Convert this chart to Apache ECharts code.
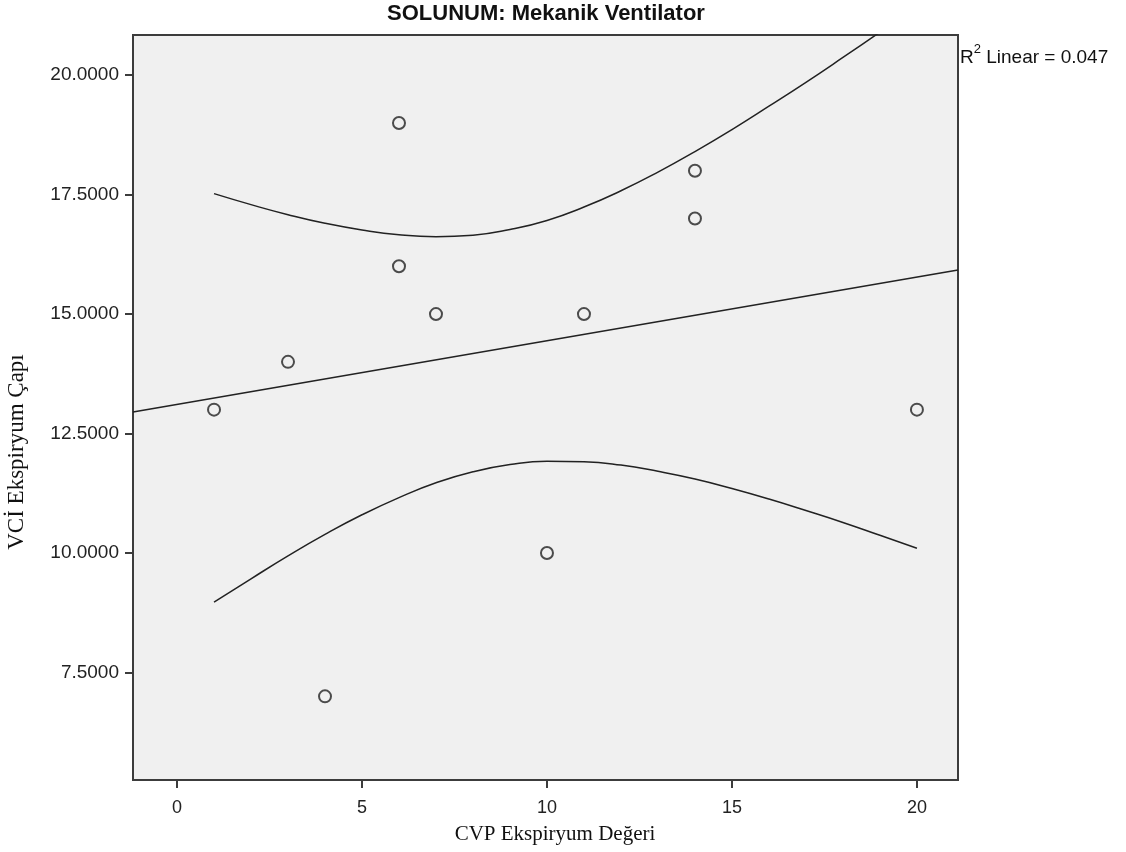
<!DOCTYPE html>
<html>
<head>
<meta charset="utf-8">
<script src="https://cdn.jsdelivr.net/npm/echarts@6/dist/echarts.min.js"></script>
<style>
html,body{margin:0;padding:0;background:#fff;}
#c{width:1126px;height:852px;}
</style>
</head>
<body>
<div id="c"></div>
<script>
// Observed points
const cvp = [1, 3, 4, 6, 6, 7, 10, 11, 14, 14, 20];
const vci = [13, 14, 7, 19, 16, 15, 10, 15, 18, 17, 13];
// Fit line endpoints (spans plot edges)
const fitX = [-1.19, 21.11];
const fitY = [12.95, 15.92];
// Confidence band curves
const bandX = [1, 2, 3, 4, 5, 6, 7, 8, 9, 10, 11, 12, 13, 14, 15, 16, 17, 18, 19, 20];
const bandUpper = [17.52, 17.29, 17.08, 16.90, 16.76, 16.66, 16.62, 16.65, 16.77, 16.96, 17.24, 17.58, 17.97, 18.40, 18.86, 19.35, 19.85, 20.37, 20.90, 21.44];
const bandLower = [8.97, 9.46, 9.94, 10.39, 10.80, 11.16, 11.47, 11.70, 11.85, 11.92, 11.91, 11.84, 11.71, 11.55, 11.35, 11.13, 10.89, 10.64, 10.37, 10.10];
const xTicks = [0, 5, 10, 15, 20];
const yTicks = [7.5, 10, 12.5, 15, 17.5, 20];

const title = 'SOLUNUM: Mekanik Ventilator';
const xName = 'CVP Ekspiryum Değeri';
const yName = 'VCİ Ekspiryum Çapı';
const r2Label = '0.047';

const chart = echarts.init(document.getElementById('c'));
const lineCol = '#222';
const axCol = '#3c3c3c';
const pair = (xa, ya) => xa.map((v, i) => [v, ya[i]]);

chart.setOption({
  animation: false,
  grid: {left: 133, top: 35, width: 825, height: 745, show: true, backgroundColor: '#f0f0f0', borderColor: axCol, borderWidth: 2},
  xAxis: {
    type: 'value', min: -1.19, max: 21.11,
    axisLine: {show: false, onZero: false},
    splitLine: {show: false},
    axisTick: {show: true, length: 8, lineStyle: {color: axCol, width: 2}, customValues: xTicks},
    axisLabel: {customValues: xTicks, margin: 19, color: '#222', fontFamily: 'Liberation Sans, Arial', fontSize: 18, formatter: v => String(v)}
  },
  yAxis: {
    type: 'value', min: 5.25, max: 20.84,
    axisLine: {show: false, onZero: false},
    splitLine: {show: false},
    axisTick: {show: true, length: 8, lineStyle: {color: axCol, width: 2}, customValues: yTicks},
    axisLabel: {customValues: yTicks, margin: 14, color: '#222', fontFamily: 'Liberation Sans, Arial', fontSize: 19, formatter: v => v.toFixed(4)}
  },
  graphic: [
    {type: 'text', x: 546, y: 14, style: {text: title, font: 'bold 22px "Liberation Sans", Arial', fill: '#111', align: 'center', verticalAlign: 'middle'}},
    {type: 'text', x: 555, y: 834, style: {text: xName, font: '21px "Liberation Serif", serif', fill: '#111', align: 'center', verticalAlign: 'middle'}},
    {type: 'text', x: 17, y: 452, rotation: Math.PI / 2, style: {text: yName, font: '23px "Liberation Serif", serif', fill: '#111', align: 'center', verticalAlign: 'middle'}},
    {type: 'text', x: 960, y: 43, style: {text: '{a|R}{s|2}{a| Linear = ' + r2Label + '}', rich: {a: {fontSize: 19, fontFamily: 'Liberation Sans, Arial', fill: '#111', lineHeight: 24, verticalAlign: 'bottom'}, s: {fontSize: 13, fontFamily: 'Liberation Sans, Arial', fill: '#111', verticalAlign: 'top', lineHeight: 24}}}}
  ],
  series: [
    {type: 'line', data: pair(fitX, fitY), symbol: 'none', lineStyle: {color: lineCol, width: 1.5}, clip: true, z: 2},
    {type: 'line', data: pair(bandX, bandUpper), symbol: 'none', smooth: true, lineStyle: {color: lineCol, width: 1.5}, clip: true, z: 2},
    {type: 'line', data: pair(bandX, bandLower), symbol: 'none', smooth: true, lineStyle: {color: lineCol, width: 1.5}, clip: true, z: 2},
    {type: 'scatter', data: pair(cvp, vci), symbol: 'circle', symbolSize: 12, itemStyle: {color: 'rgba(0,0,0,0)', borderColor: '#222', borderWidth: 2}, z: 3}
  ]
});
</script>
</body>
</html>
